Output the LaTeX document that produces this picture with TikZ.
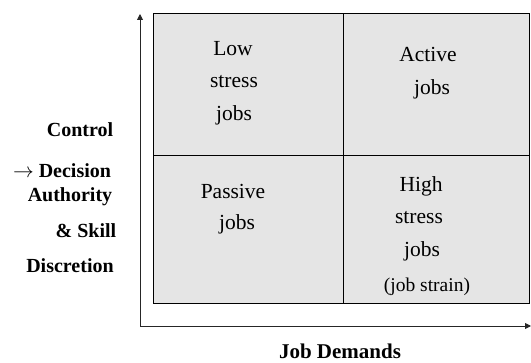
\documentclass[tikz,border=0pt]{standalone}
\usepackage{fontspec}
\setmainfont{Liberation Serif}
\usetikzlibrary{arrows.meta}
\begin{document}
\begin{tikzpicture}[x=1pt,y=-1pt,
  quad/.style={draw=black, line width=0.8pt, fill=black!10},
  axis/.style={draw=black!85, line width=0.9pt, -{Triangle[length=6pt,width=6pt]}},
  celltext/.style={font=\fontsize{21.5}{24}\selectfont, inner sep=0pt},
  smalltext/.style={font=\fontsize{19.5}{22}\selectfont, inner sep=0pt},
  sidelabel/.style={font=\fontsize{20}{22}\selectfont\bfseries, inner sep=0pt}]
  \useasboundingbox (0,0) rectangle (531,363);

  % four quadrants of the grid
  \path[quad] (153,13) rectangle (343,155);
  \path[quad] (343,13) rectangle (529,155);
  \path[quad] (153,155) rectangle (343,303);
  \path[quad] (343,155) rectangle (529,303);

  % axes
  \coordinate (origin) at (140,326);
  \coordinate (ytip) at (140,14);
  \coordinate (xtip) at (531,326);
  \draw[axis] (origin) -- (ytip);
  \draw[axis] (origin) -- (xtip);

  % quadrant labels
  \node[celltext] (low1) at (233,49) {Low};
  \node[celltext] (low2) at (234,82) {stress};
  \node[celltext] (low3) at (234,115) {jobs};
  \node[celltext] (act1) at (428,54) {Active};
  \node[celltext] (act2) at (432,89) {jobs};
  \node[celltext] (pas1) at (233,191) {Passive};
  \node[celltext] (pas2) at (237,224) {jobs};
  \node[celltext] (hi1) at (421,186) {High};
  \node[celltext] (hi2) at (419,218) {stress};
  \node[celltext] (hi3) at (422,251) {jobs};
  \node[smalltext] (hi4) at (427,287) {(job strain)};

  % axis labels
  \node[sidelabel] (ctl) at (80,130) {Control};
  \node[sidelabel] (dec) at (62,171) {$\rightarrow$ Decision};
  \node[sidelabel] (aut) at (70,197) {Authority};
  \node[sidelabel] (skl) at (86,231) {\& Skill};
  \node[sidelabel] (dis) at (70,266) {Discretion};
  \node[sidelabel, font=\fontsize{21}{23}\selectfont\bfseries] (dem) at (340,351) {Job Demands};
\end{tikzpicture}
\end{document}
